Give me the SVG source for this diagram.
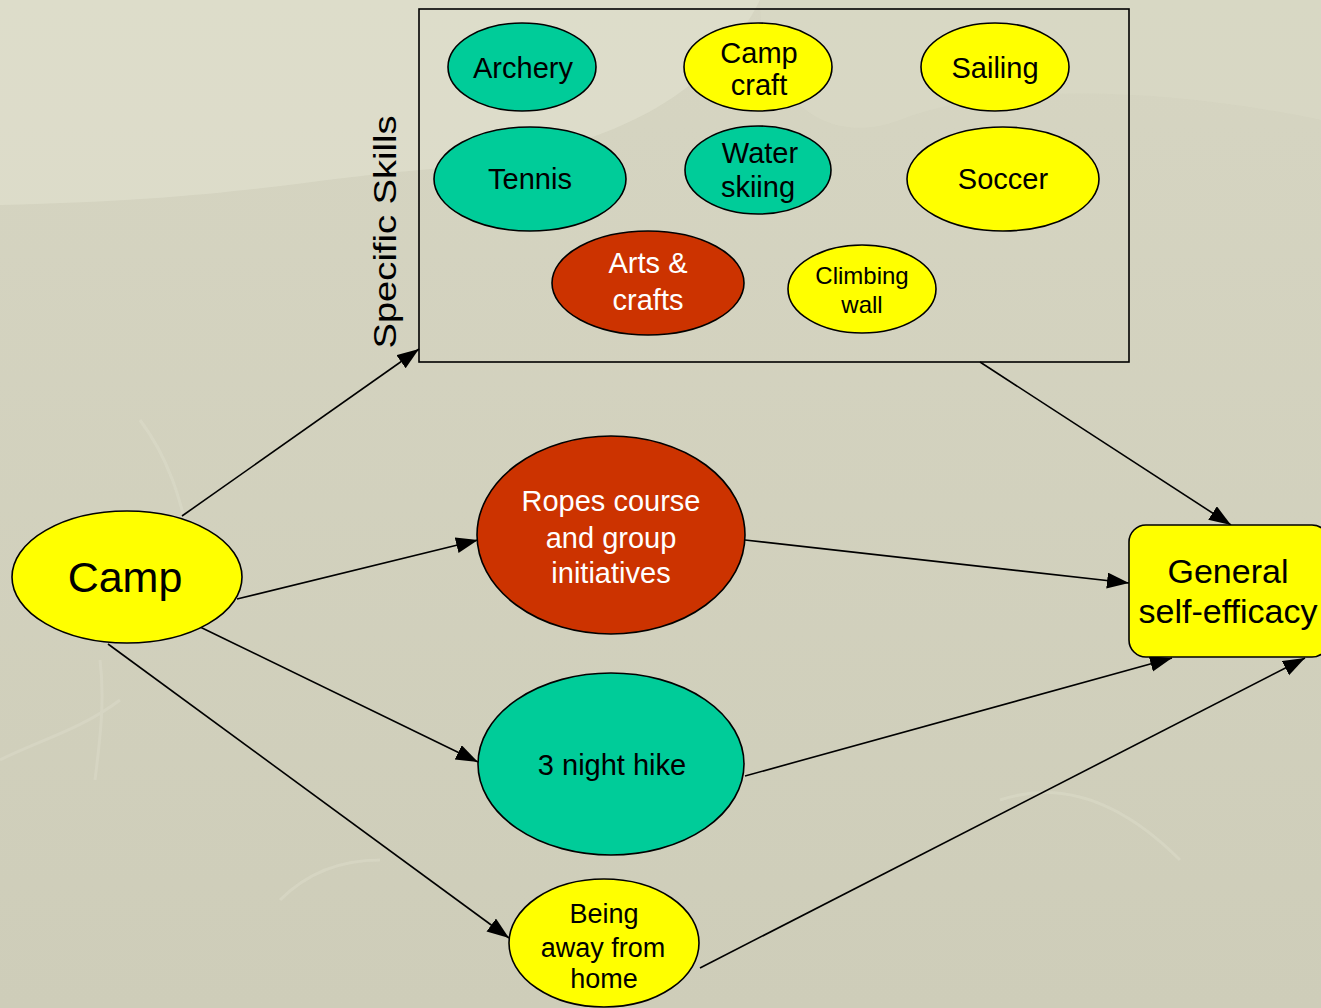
<svg xmlns="http://www.w3.org/2000/svg" width="1321" height="1008" viewBox="0 0 1321 1008">
  <defs>
    <marker id="arrow" markerUnits="userSpaceOnUse" markerWidth="24" markerHeight="18" refX="22" refY="8" orient="auto">
      <path d="M0,0 L22,8 L0,16 z" fill="#000"/>
    </marker>
    <linearGradient id="bg" x1="0" y1="0" x2="0" y2="1">
      <stop offset="0" stop-color="#d6d5c2"/>
      <stop offset="1" stop-color="#cecdb9"/>
    </linearGradient>
  </defs>
  <style>
    .node { stroke: #000; stroke-width: 1.6; }
    .teal { fill: #00cc99; }
    .yellow { fill: #ffff00; }
    .red { fill: #cc3300; }
    text { font-family: "Liberation Sans", Arial, sans-serif; text-anchor: middle; fill: #000; }
    .w { fill: #fff; }
    .s29 { font-size: 29px; }
    .s24 { font-size: 24px; }
    .edge { stroke: #000; stroke-width: 1.6; fill: none; marker-end: url(#arrow); }
  </style>

  <!-- background -->
  <rect x="0" y="0" width="1321" height="1008" fill="url(#bg)"/>
  <path d="M0,0 H760 C700,120 560,160 420,170 C300,180 230,200 0,205 Z" fill="#e0dfcd" opacity="0.7"/>
  <path d="M760,0 H1321 V120 C1180,90 1000,80 900,120 C820,150 760,90 760,0 Z" fill="#dcdbc8" opacity="0.45"/>
  <g stroke="#e2e1d1" stroke-width="3" fill="none" opacity="0.35">
    <path d="M0,760 C40,740 80,730 120,700"/>
    <path d="M100,660 C105,700 100,740 95,780"/>
    <path d="M280,900 C300,880 330,860 380,860"/>
    <path d="M1000,800 C1060,780 1120,800 1180,860"/>
    <path d="M140,420 C170,460 180,500 190,540"/>
  </g>

  <!-- Specific Skills group box -->
  <g id="specific-skills">
    <rect x="419" y="9" width="710" height="353" fill="none" stroke="#000" stroke-width="1.6"/>
    <text x="396" y="232" transform="rotate(-90 396 232)" style="font-size:32px" textLength="233" lengthAdjust="spacingAndGlyphs">Specific Skills</text>
  </g>

  <g id="archery">
    <ellipse class="node teal" cx="522" cy="67" rx="74" ry="44"/>
    <text class="s29" x="523" y="78">Archery</text>
  </g>
  <g id="camp-craft">
    <ellipse class="node yellow" cx="758" cy="67" rx="74" ry="44"/>
    <text class="s29" x="759" y="63">Camp</text>
    <text class="s29" x="759" y="95">craft</text>
  </g>
  <g id="sailing">
    <ellipse class="node yellow" cx="995" cy="67" rx="74" ry="44"/>
    <text class="s29" x="995" y="78">Sailing</text>
  </g>
  <g id="tennis">
    <ellipse class="node teal" cx="530" cy="179" rx="96" ry="52"/>
    <text class="s29" x="530" y="189">Tennis</text>
  </g>
  <g id="water-skiing">
    <ellipse class="node teal" cx="758" cy="170" rx="73" ry="44"/>
    <text class="s29" x="760" y="163">Water</text>
    <text class="s29" x="758" y="197">skiing</text>
  </g>
  <g id="soccer">
    <ellipse class="node yellow" cx="1003" cy="179" rx="96" ry="52"/>
    <text class="s29" x="1003" y="189">Soccer</text>
  </g>
  <g id="arts-crafts">
    <ellipse class="node red" cx="648" cy="283" rx="96" ry="52"/>
    <text class="s29 w" x="648" y="273">Arts &amp;</text>
    <text class="s29 w" x="648" y="310">crafts</text>
  </g>
  <g id="climbing-wall">
    <ellipse class="node yellow" cx="862" cy="289" rx="74" ry="44"/>
    <text class="s24" x="862" y="284">Climbing</text>
    <text class="s24" x="862" y="313">wall</text>
  </g>

  <!-- connectors -->
  <g id="connectors">
    <line class="edge" x1="182" y1="516" x2="419" y2="349"/>
    <line class="edge" x1="237" y1="599" x2="478" y2="540"/>
    <line class="edge" x1="198" y1="626" x2="478" y2="762"/>
    <line class="edge" x1="108" y1="644" x2="509" y2="938"/>
    <line class="edge" x1="980" y1="362" x2="1231" y2="525"/>
    <line class="edge" x1="745" y1="540" x2="1129" y2="583"/>
    <line class="edge" x1="745" y1="776" x2="1172" y2="658"/>
    <line class="edge" x1="700" y1="968" x2="1305" y2="658"/>
  </g>

  <g id="camp">
    <ellipse class="node yellow" cx="127" cy="577" rx="115" ry="66"/>
    <text x="125" y="592" style="font-size:43px">Camp</text>
  </g>
  <g id="ropes-course">
    <ellipse class="node red" cx="611" cy="535" rx="134" ry="99"/>
    <text class="s29 w" x="611" y="511">Ropes course</text>
    <text class="s29 w" x="611" y="548">and group</text>
    <text class="s29 w" x="611" y="583">initiatives</text>
  </g>
  <g id="night-hike">
    <ellipse class="node teal" cx="611" cy="764" rx="133" ry="91"/>
    <text class="s29" x="612" y="775">3 night hike</text>
  </g>
  <g id="away-from-home">
    <ellipse class="node yellow" cx="604" cy="943" rx="95" ry="64"/>
    <text x="604" y="923" style="font-size:27px">Being</text>
    <text x="603" y="957" style="font-size:27px">away from</text>
    <text x="604" y="988" style="font-size:27px">home</text>
  </g>
  <g id="general-self-efficacy">
    <rect class="node yellow" x="1129" y="525" width="200" height="132" rx="17" ry="17"/>
    <text x="1228" y="583" style="font-size:34px">General</text>
    <text x="1228" y="623" style="font-size:34px">self-efficacy</text>
  </g>
</svg>
